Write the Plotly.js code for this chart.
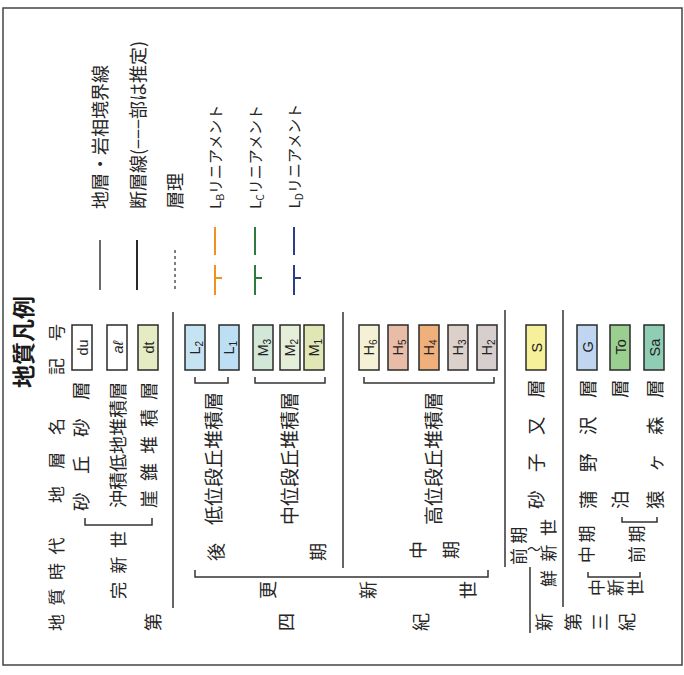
<!DOCTYPE html>
<html><head><meta charset="utf-8">
<script src="https://cdn.plot.ly/plotly-3.0.1.min.js"></script>
<style>html,body{margin:0;padding:0;background:#fff}</style>
</head><body><div id="chart" style="width:684px;height:675px"></div>
<script>
// ---------- data ----------
const title = '地質凡例';
const headers = ['地質時代', '地層名', '記号'];
const symbolLabels = ['du', '<i>aℓ</i>', 'dt', 'L<sub>2</sub>', 'L<sub>1</sub>', 'M<sub>3</sub>', 'M<sub>2</sub>', 'M<sub>1</sub>',
  'H<sub>6</sub>', 'H<sub>5</sub>', 'H<sub>4</sub>', 'H<sub>3</sub>', 'H<sub>2</sub>', 'S', 'G', 'To', 'Sa'];
const symbolColors = ['#ffffff', '#ffffff', '#e5ebc2', '#c6e3f4', '#bddff4', '#d3e7d9', '#e4eed8', '#e0e6b4',
  '#f4f1d6', '#e9bca7', '#efb07c', '#dcd0cb', '#d6cfcd', '#f6f09a', '#c0d5ef', '#9bcf90', '#90cdb5'];
const formationNames = ['砂丘砂層', '沖積低地堆積層', '崖錐堆積層', '低位段丘堆積層', '中位段丘堆積層', '高位段丘堆積層',
  '砂子又層', '蒲野沢層', '泊層', '猿ヶ森層'];
const lineLegendNames = ['地層・岩相境界線', '断層線(−−−部は推定)', '層理',
  'L<sub>B</sub>リニアメント', 'L<sub>C</sub>リニアメント', 'L<sub>D</sub>リニアメント'];
const lineLegendColors = ['#3a3a3a', '#2a2a2a', '#555555', '#f0901e', '#2f7a3c', '#2c3c8c'];
const lineLegendKinds = ['solid', 'solid', 'dot', 'lineament', 'lineament', 'lineament'];
const ageLabels = ['完新世', '第四紀', '更新世', '後期', '中期', '前期', '鮮新世', '新第三紀', '中新世', '中期', '前期'];

// ---------- layout positions (pixel frame) ----------
const symbolX = [82, 117, 148, 195, 229, 263, 290, 314, 369, 398, 429, 458, 487, 536, 587, 620, 654];
const nameX = [80, 117, 148, 212, 288, 432, 535, 587, 619, 654];
const nameY = [446, 445, 445, 459, 459, 459, 444, 444, 444, 444];
const nameSize = [18.5, 18, 18, 19, 19, 19, 18.5, 18.5, 18.5, 18.5];
const nameSep = ['\u3000', '', '\u2002', '', '', '', '\u3000', '\u3000', '\u3000\u3000\u3000\u3000\u3000', '\u3000'];
const lineX = [100, 137, 175, 215, 255, 294];
const lineTextX = [99, 137, 174, 215, 255, 294];
const lineTextSize = [18, 18, 18, 15, 15, 15];

const F = '"Noto Sans CJK JP", "Noto Sans CJK SC", sans-serif';
const TXT = '#262626';
const ann = [];
const shapes = [];

function T(text, x, y, size, extra) {
  ann.push(Object.assign({
    text: text, x: x, y: y, xref: 'x', yref: 'y', showarrow: false, textangle: -90,
    xanchor: 'center', yanchor: 'middle', font: {family: F, size: size, color: TXT}, borderpad: 0
  }, extra || {}));
}
function spaced(s, sep) { return Array.from(s).join(sep); }
function stack(s, xs, y, size) { Array.from(s).forEach((c, i) => T(c, xs[i], y, size)); }
function L(x0, y0, x1, y1, color, width, dash) {
  shapes.push({type: 'line', xref: 'x', yref: 'y', x0: x0, y0: y0, x1: x1, y1: y1,
    line: {color: color, width: width, dash: dash || 'solid'}});
}
function bracket(xa, xb, y, h) {
  shapes.push({type: 'path', xref: 'x', yref: 'y',
    path: `M${xa},${y - h} L${xa},${y} L${xb},${y} L${xb},${y - h}`,
    line: {color: '#333', width: 1.5}});
}

// frame
shapes.push({type: 'rect', xref: 'x', yref: 'y', x0: 3, y0: 8, x1: 682, y1: 665, line: {color: '#444', width: 1.5}});

// title and headers
T(title, 22, 342, 23, {font: {family: F, size: 23, color: '#1a1a1a', weight: 'bold'}});
T(spaced(headers[0], '\u2002'), 55, 584, 17);
T(spaced(headers[1], '\u3000'), 55, 461, 17);
T(spaced(headers[2], '\u3000'), 55, 350, 17);

// symbol boxes
symbolLabels.forEach((lab, i) => {
  const cx = symbolX[i];
  shapes.push({type: 'rect', xref: 'x', yref: 'y', x0: cx - 10, x1: cx + 10, y0: 325, y1: 370,
    fillcolor: symbolColors[i], line: {color: '#2a2a2a', width: 1.5}});
  T(lab, cx, 347.5, 14.5, {font: {family: '"Liberation Sans", Arial, sans-serif', size: 14.5, color: '#222'}});
});

// formation names
formationNames.forEach((n, i) => {
  T(spaced(n, nameSep[i]), nameX[i], nameY[i], nameSize[i]);
});

// line legend
lineLegendNames.forEach((n, i) => {
  const x = lineX[i], c = lineLegendColors[i], k = lineLegendKinds[i];
  if (k === 'solid') L(x, 240, x, 290, c, i === 1 ? 2 : 1.5);
  else if (k === 'dot') L(x, 250, x, 290, c, 1.5, 'dot');
  else {
    L(x, 227, x, 255, c, 2);
    L(x, 265, x, 295, c, 2);
    L(x, 278, x + 7, 278, c, 2);
  }
  T(n, lineTextX[i], 210, lineTextSize[i], {yanchor: 'bottom'});
});

// brackets
bracket(85, 152, 525, 7);   // 完新世
bracket(195, 228, 383, 6);  // 低位
bracket(255, 325, 383, 6);  // 中位
bracket(364, 494, 383, 6);  // 高位
bracket(195, 488, 577, 7);  // 更新世
bracket(622, 657, 522, 5);  // 前期 (泊・猿ヶ森)
bracket(588, 640, 577, 5);  // 中新世

// separators
L(173, 312, 173, 608, '#333', 1.5);
L(343, 312, 343, 568, '#333', 1.5);
L(505, 310, 505, 567, '#333', 1.5);
L(530, 567, 530, 633, '#333', 1.5);
L(563, 310, 563, 607, '#333', 1.5);

// ages
T(spaced(ageLabels[0], '\u2002'), 117, 565, 17);
stack(ageLabels[1], [152, 285, 420], 622, 18);
stack(ageLabels[2], [267, 367, 467], 590, 18);
stack(ageLabels[3], [215, 317], 552, 18);
stack(ageLabels[4], [417, 450], 550, 18);
T(spaced(ageLabels[5], '\u2005'), 517, 546, 17);
T('〜', 534, 548, 14, {textangle: 0});
T(spaced(ageLabels[6], '\u2002'), 547, 553, 17);
stack(ageLabels[7], [543, 572, 599, 626], 622, 18);
stack(ageLabels[8], [595, 614, 634], 588, 17);
T(spaced(ageLabels[9], '\u2009'), 585, 545, 17);
T(spaced(ageLabels[10], '\u2009'), 635, 545, 17);

Plotly.newPlot('chart', [{x: [], y: [], type: 'scatter', mode: 'markers', showlegend: false, hoverinfo: 'skip'}], {
  width: 684, height: 675,
  margin: {l: 0, r: 0, t: 0, b: 0},
  paper_bgcolor: '#fff', plot_bgcolor: '#fff',
  xaxis: {range: [0, 684], visible: false, fixedrange: true},
  yaxis: {range: [675, 0], visible: false, fixedrange: true},
  shapes: shapes, annotations: ann, showlegend: false
}, {staticPlot: true, displayModeBar: false});
</script>
</body></html>
